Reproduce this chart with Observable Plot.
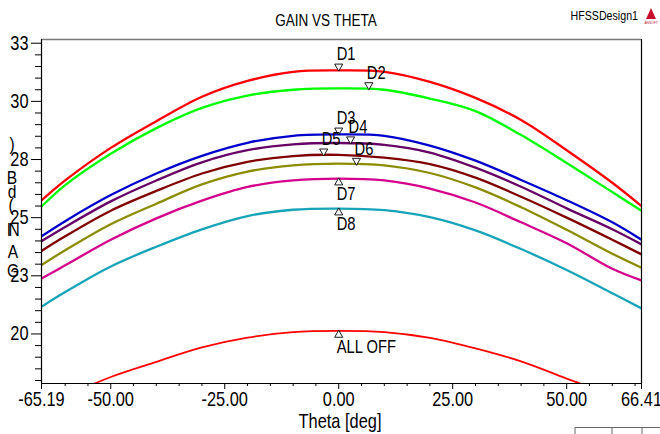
<!DOCTYPE html>
<html>
<head>
<meta charset="utf-8">
<script src="https://cdn.jsdelivr.net/npm/d3@7"></script>
<script src="https://cdn.jsdelivr.net/npm/@observablehq/plot@0.6"></script>
<style>
  html, body { margin: 0; padding: 0; background: #fff; }
  #chart { width: 660px; height: 434px; overflow: hidden; }
</style>
</head>
<body>
<div id="chart"></div>
<script>
// ---- data ----
const theta = [-65.19, -60, -50, -40, -30, -20, -10, 0, 10, 20, 30, 40, 50, 60, 66.41];
const d1 = [25.74, 26.6, 28.0, 29.15, 30.2, 30.88, 31.27, 31.33, 31.27, 30.84, 30.15, 29.2, 27.9, 26.5, 25.5];
const d2 = [25.48, 26.4, 27.75, 28.85, 29.72, 30.25, 30.5, 30.56, 30.5, 30.12, 29.58, 28.55, 27.35, 26.1, 25.3];
const d3 = [24.2, 24.85, 25.97, 26.9, 27.66, 28.22, 28.52, 28.58, 28.52, 28.1, 27.45, 26.62, 25.75, 24.8, 24.05];
const d4 = [23.99, 24.6, 25.7, 26.6, 27.38, 27.9, 28.15, 28.21, 28.13, 27.8, 27.15, 26.33, 25.4, 24.5, 23.85];
const d5 = [23.57, 24.2, 25.3, 26.15, 26.9, 27.4, 27.65, 27.7, 27.58, 27.3, 26.72, 25.9, 25.0, 24.05, 23.42];
const d6 = [22.96, 23.6, 24.72, 25.6, 26.43, 26.98, 27.25, 27.32, 27.25, 26.92, 26.3, 25.45, 24.48, 23.45, 22.85];
const d7 = [22.38, 22.95, 24.05, 24.97, 25.73, 26.32, 26.6, 26.68, 26.6, 26.25, 25.65, 24.8, 23.9, 22.8, 22.3];
const d8 = [21.17, 21.8, 22.9, 23.75, 24.5, 25.07, 25.34, 25.39, 25.32, 25.02, 24.45, 23.65, 22.75, 21.75, 21.1];
const allOff = [16.8, 17.3, 18.15, 18.8, 19.42, 19.84, 20.08, 20.13, 20.08, 19.83, 19.38, 18.82, 18.08, 17.35, 16.8];

const seriesNames = ["D1", "D2", "D3", "D4", "D5", "D6", "D7", "D8", "ALL OFF"];
const seriesValues = [d1, d2, d3, d4, d5, d6, d7, d8, allOff];
const seriesColors = ["#ff0000", "#00ff00", "#0000cc", "#660066", "#800000", "#8c8c00", "#d4008c", "#18a4b8", "#ff0000"];

const markerNames = ["D1", "D2", "D3", "D4", "D5", "D6", "D7", "D8", "ALL OFF"];
const markerTheta = [0, 6.6, 0, 2.6, -3.3, 3.9, 0, 0, 0];
const markerValue = [31.33, 30.53, 28.58, 28.2, 27.68, 27.28, 26.68, 25.39, 20.13];
const markerDir = ["down", "down", "down", "down", "down", "down", "up", "up", "up"];

const xDomain = [-65.19, 66.41];
const yDomain = [17.87, 32.66];
const xTicks = [-65.19, -50, -25, 0, 25, 50, 66.41];
const xTickLabels = ["-65.19", "-50.00", "-25.00", "0.00", "25.00", "50.00", "66.41"];
const xMinorTicks = [-60, -55, -45, -40, -35, -30, -20, -15, -10, -5, 5, 10, 15, 20, 30, 35, 40, 45, 55, 60, 65];
const yTicks = [20, 22.5, 25, 27.5, 30, 32.5];
const yTickLabels = ["20", "23", "25", "28", "30", "33"];
const yMinorTicks = [18, 18.5, 19, 19.5, 20.5, 21, 21.5, 22, 23, 23.5, 24, 24.5, 25.5, 26, 26.5, 27, 28, 28.5, 29, 29.5, 30.5, 31, 31.5, 32];

const titleText = "GAIN VS THETA";
const designText = "HFSSDesign1";
const xLabelText = "Theta [deg]";
const yLabelText = "GAIN(dB)";

// ---- build ----
const rows = [];
seriesNames.forEach((name, si) => {
  theta.forEach((t, i) => rows.push({t, v: seriesValues[si][i], s: name}));
});
const markers = markerNames.map((n, i) => ({n, t: markerTheta[i], v: markerValue[i], dir: markerDir[i]}));

const font = "'Liberation Sans', Arial, sans-serif";

const lineMarks = seriesNames.map((name, si) =>
  Plot.line(rows.filter(r => r.s === name), {
    x: "t", y: "v", stroke: seriesColors[si],
    strokeWidth: name === "ALL OFF" ? 1.8 : 2.3,
    curve: "catmull-rom", clip: true
  })
);

const plot = Plot.plot({
  width: 660, height: 434,
  marginLeft: 41, marginRight: 19, marginTop: 39, marginBottom: 51,
  style: {fontFamily: font, fontSize: "19px", background: "white", color: "black"},
  x: {domain: xDomain, label: null, axis: null},
  y: {domain: yDomain, label: null, axis: null},
  marks: [
    Plot.ruleY([yDomain[1]], {stroke: "#777", strokeWidth: 1.5}),
    Plot.ruleX([xDomain[1]], {stroke: "black", strokeWidth: 1.2}),
    ...lineMarks,
    Plot.axisY(yMinorTicks, {tickSize: 6, tickFormat: () => "", stroke: "black"}),
    Plot.axisY(yTicks, {tickSize: 10, tickPadding: 3, tickFormat: d => yTickLabels[yTicks.indexOf(d)], fontSize: 20, stroke: "black"}),
    Plot.axisX(xMinorTicks, {tickSize: 3, tickFormat: () => "", stroke: "black"}),
    Plot.axisX(xTicks, {tickSize: 6, tickPadding: 2, tickFormat: d => xTickLabels[xTicks.indexOf(d)], fontSize: 20, stroke: "black"}),
    Plot.ruleX([xDomain[0]], {stroke: "black", strokeWidth: 1.2}),
    Plot.ruleY([yDomain[0]], {stroke: "black", strokeWidth: 1.2}),
    Plot.dot(markers.filter(m => m.dir === "down"), {x: "t", y: "v", symbol: "triangle", rotate: 180, r: 3, dy: -4, fill: "white", stroke: "black", strokeWidth: 0.9}),
    Plot.dot(markers.filter(m => m.dir === "up"), {x: "t", y: "v", symbol: "triangle", r: 3, dy: 4, fill: "white", stroke: "black", strokeWidth: 0.9}),
    Plot.text(markers.filter(m => m.dir === "down"), {x: "t", y: "v", text: "n", textAnchor: "start", lineAnchor: "bottom", dx: -2, dy: -10, fontSize: 18, fill: "black"}),
    Plot.text(markers.filter(m => m.dir === "up"), {x: "t", y: "v", text: "n", textAnchor: "start", lineAnchor: "top", dx: -2, dy: 9, fontSize: 18, fill: "black"})
  ]
});
document.getElementById("chart").appendChild(plot);

// ---- surrounding text (plain DOM) ----
const NS = "http://www.w3.org/2000/svg";
function addText(x, y, str, size, anchor, fill) {
  const t = document.createElementNS(NS, "text");
  t.setAttribute("x", x); t.setAttribute("y", y);
  t.setAttribute("text-anchor", anchor || "middle");
  t.setAttribute("font-size", size);
  t.setAttribute("font-family", font);
  t.setAttribute("fill", fill || "black");
  t.textContent = str;
  plot.appendChild(t);
  return t;
}
function addPath(d, attrs) {
  const p = document.createElementNS(NS, "path");
  p.setAttribute("d", d);
  for (const k in attrs) p.setAttribute(k, attrs[k]);
  plot.appendChild(p);
}
addText(326, 26, titleText, 16.5);
addText(638, 20, designText, 13, "end");
addText(340, 428, xLabelText, 20);
addPath("M651,8 L656,19 L646,19 Z", {fill: "#c8102e"});
addText(651, 24, "ANSOFT", 4, "middle", "#c8102e");
addPath("M575,434 V427.5 H660 M612,427.5 V434 M642,427.5 V434", {fill: "none", stroke: "#666", "stroke-width": 1});
// stacked y label letters (bottom to top)
const yLetterPos = [[13, 277], [13, 258], [9, 236], [14, 236], [11, 211], [12, 198], [12, 184], [12, 150]];
yLabelText.split("").forEach((ch, i) => addText(yLetterPos[i][0], yLetterPos[i][1], ch, 19));

// condense all text horizontally (narrow Arial look), keeping x anchor and vertical offsets
plot.querySelectorAll("text").forEach(t => {
  const x = parseFloat(t.getAttribute("x") || 0) || 0;
  const tr = t.getAttribute("transform") || "";
  t.setAttribute("x", 0);
  t.setAttribute("transform", tr + ` translate(${x},0) scale(0.82,1)`);
});
</script>
</body>
</html>
